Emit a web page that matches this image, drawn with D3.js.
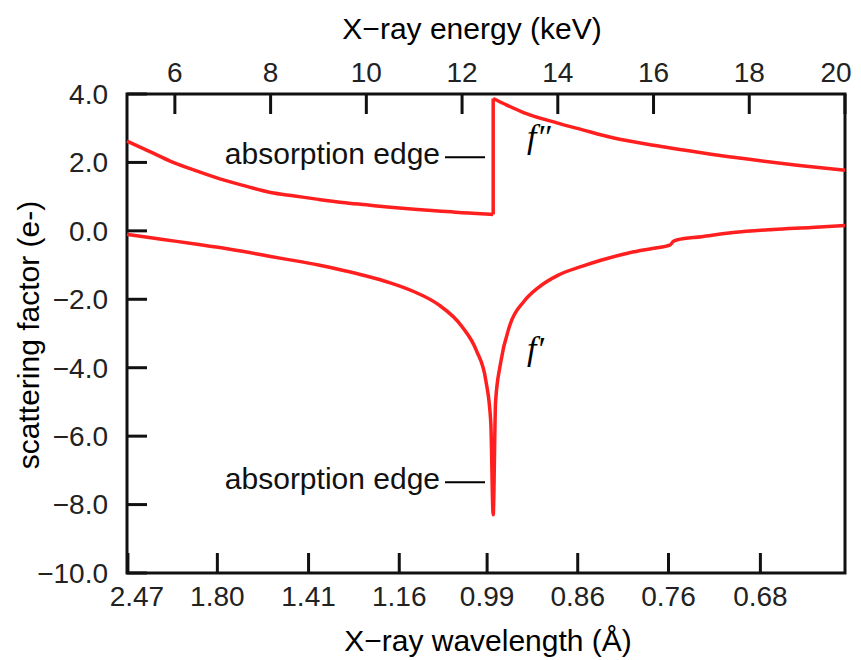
<!DOCTYPE html>
<html>
<head>
<meta charset="utf-8">
<script src="https://cdn.jsdelivr.net/npm/d3@7"></script>
<style>
  body { margin: 0; background: #fff; }
  text { font-family: "Liberation Sans", Arial, sans-serif; }
</style>
</head>
<body>
<div id="chart"></div>
<script>
// f'' below and above the Se K edge, f' across it (energy in keV)
const fppLoEnergy = [5.0, 5.5, 5.9, 6.5, 6.94, 7.5, 8.0, 8.5, 9.0, 9.5, 10.0, 10.5, 11.0, 11.5, 12.0, 12.3, 12.65];
const fppLo = [2.62, 2.30, 2.04, 1.73, 1.52, 1.30, 1.12, 1.02, 0.92, 0.83, 0.76, 0.69, 0.63, 0.58, 0.53, 0.51, 0.48];
const fppHiEnergy = [12.65, 12.9, 13.3, 14.0, 14.5, 15.15, 16.0, 16.55, 17.2, 18.0, 19.0, 20.0];
const fppHi = [3.87, 3.70, 3.45, 3.15, 2.96, 2.72, 2.50, 2.38, 2.24, 2.09, 1.92, 1.77];
const fpEnergy = [5.0, 5.5, 6.0, 6.5, 7.0, 7.5, 8.0, 8.5, 9.0, 9.5, 10.0, 10.5, 11.0, 11.5, 12.0, 12.3, 12.5, 12.6, 12.65,
                  12.7, 12.8, 13.0, 13.3, 13.6, 14.0, 14.5, 14.9, 15.5, 16.0, 16.34, 16.42, 16.5, 17.0, 17.66, 18.5, 19.3, 20.0];
const fp = [-0.10, -0.20, -0.30, -0.40, -0.50, -0.62, -0.75, -0.87, -1.00, -1.15, -1.32, -1.52, -1.78, -2.15, -2.80, -3.50, -4.40, -5.60, -8.30,
            -5.00, -3.90, -2.75, -2.05, -1.65, -1.30, -1.04, -0.86, -0.64, -0.51, -0.42, -0.30, -0.26, -0.17, -0.05, 0.04, 0.10, 0.16];

const energyTicks = [6, 8, 10, 12, 14, 16, 18, 20];
const wavelengthTicks = [2.47, 1.80, 1.41, 1.16, 0.99, 0.86, 0.76, 0.68];
const yTicks = [4, 2, 0, -2, -4, -6, -8, -10];

(function(){
    const margin = { top: 94, left: 127, bottom: 87, right: 16 };
    const fullWidth = 861, fullHeight = 660;
    const width = fullWidth - margin.left - margin.right;
    const height = fullHeight - margin.top - margin.bottom;
    const red = '#ff1f1f';
    const tickLen = 20;

    const svg = d3.select('#chart')
        .append('svg')
            .attr('width', fullWidth)
            .attr('height', fullHeight)
        .append('g')
            .attr('transform', `translate(${margin.left}, ${margin.top})`);

    const xScale = d3.scaleLinear().domain([5, 20]).range([0, width]);
    const yScale = d3.scaleLinear().domain([-10, 4]).range([height, 0]);
    const hc = 12.398; // keV * Angstrom
    const wlX = d => xScale(hc / d);

    const frame = svg.append('g')
        .style('fill', 'none')
        .style('stroke', '#111')
        .style('stroke-width', 3);
    frame.append('path').attr('d', `M0,0H${width}V${height}H0Z`);

    // inward ticks
    frame.selectAll('.tx')
        .data(energyTicks)
        .join('path')
            .attr('class', 'tx')
            .attr('d', d => `M${xScale(d)},0V${tickLen}`);
    frame.selectAll('.bx')
        .data(wavelengthTicks)
        .join('path')
            .attr('class', 'bx')
            .attr('d', d => `M${wlX(d)},${height}V${height - tickLen}`);
    frame.selectAll('.ly')
        .data(yTicks)
        .join('path')
            .attr('class', 'ly')
            .attr('d', d => `M0,${yScale(d)}H${tickLen}`);

    const line = d3.line()
        .x(d => xScale(d[0]))
        .y(d => yScale(d[1]))
        .curve(d3.curveMonotoneX);

    const lo = d3.zip(fppLoEnergy, fppLo);
    const hi = d3.zip(fppHiEnergy, fppHi);
    const fpPts = d3.zip(fpEnergy, fp);

    const curves = svg.append('g')
        .style('fill', 'none')
        .style('stroke', red)
        .style('stroke-width', 3.5)
        .style('stroke-linejoin', 'round');
    curves.append('path').attr('d', line(lo));
    curves.append('path').attr('d', d3.line().x(d => xScale(d[0])).y(d => yScale(d[1]))([lo[lo.length - 1], hi[0]]));
    curves.append('path').attr('d', line(hi));
    curves.append('path').attr('d', line(fpPts));

    // labels sitting on a frame corner get pushed inward a bit
    const edgeShift = px => px < 10 ? 9 : (px > width - 10 ? -9 : 0);
    const tickText = sel => sel.style('font-size', '28px').style('fill', '#222');

    svg.append('g').selectAll('text')
        .data(energyTicks)
        .join('text')
            .attr('x', d => xScale(d) + edgeShift(xScale(d)))
            .attr('y', -12)
            .attr('text-anchor', 'middle')
            .text(d3.format('d'))
            .call(tickText);

    svg.append('g').selectAll('text')
        .data(wavelengthTicks)
        .join('text')
            .attr('x', d => wlX(d) + edgeShift(wlX(d)))
            .attr('y', height + 33)
            .attr('text-anchor', 'middle')
            .text(d3.format('.2f'))
            .call(tickText);

    svg.append('g').selectAll('text')
        .data(yTicks)
        .join('text')
            .attr('x', -19)
            .attr('y', d => yScale(d))
            .attr('dy', '0.35em')
            .attr('text-anchor', 'end')
            .text(d3.format('.1f'))
            .call(tickText);

    // annotations
    const notes = [
        { text: 'absorption edge', y: 2.15 },
        { text: 'absorption edge', y: -7.35 }
    ];
    notes.forEach(n => {
        const yy = yScale(n.y);
        svg.append('text')
            .attr('x', 440 - margin.left)
            .attr('y', yy + 7)
            .attr('text-anchor', 'end')
            .style('font-size', '30px')
            .style('fill', '#111')
            .text(n.text);
        svg.append('line')
            .attr('x1', 445 - margin.left).attr('x2', 485 - margin.left)
            .attr('y1', yy).attr('y2', yy)
            .style('stroke', '#000').style('stroke-width', 2);
    });

    svg.append('text')
        .attr('x', 527 - margin.left)
        .attr('y', 148 - margin.top)
        .style('font-family', '"Liberation Serif", serif')
        .style('font-style', 'italic')
        .style('font-size', '34px')
        .text('f\u2033');
    svg.append('text')
        .attr('x', 527 - margin.left)
        .attr('y', 360 - margin.top)
        .style('font-family', '"Liberation Serif", serif')
        .style('font-style', 'italic')
        .style('font-size', '34px')
        .text('f\u2032');

    // axis titles
    svg.append('text')
        .attr('x', 472 - margin.left)
        .attr('y', 39 - margin.top)
        .attr('text-anchor', 'middle')
        .style('font-size', '30px')
        .text('X\u2212ray energy (keV)');
    svg.append('text')
        .attr('x', 488 - margin.left)
        .attr('y', 651 - margin.top)
        .attr('text-anchor', 'middle')
        .style('font-size', '30px')
        .text('X\u2212ray wavelength (\u00c5)');
    svg.append('text')
        .attr('transform', `translate(${39 - margin.left}, ${335 - margin.top}) rotate(-90)`)
        .attr('text-anchor', 'middle')
        .style('font-size', '30px')
        .text('scattering factor (e-)');
}())
</script>
</body>
</html>
